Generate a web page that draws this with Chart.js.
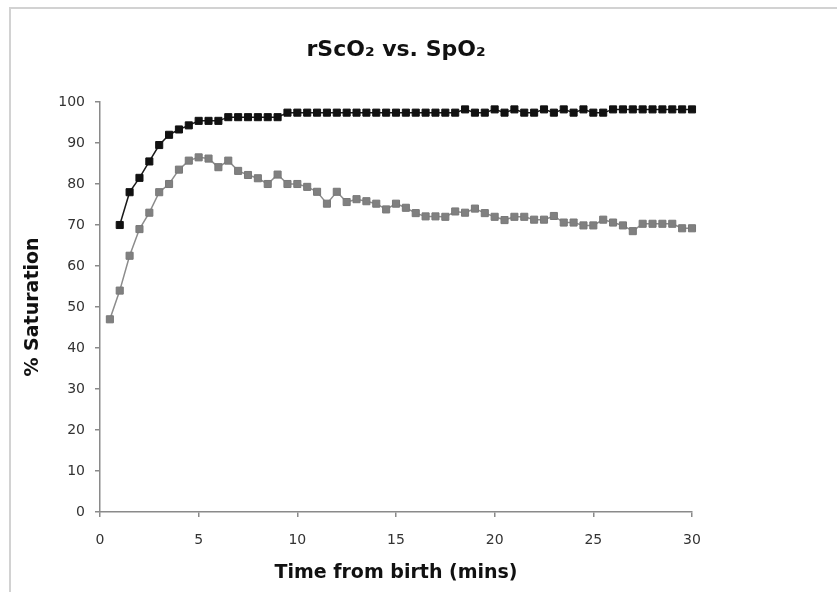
<!DOCTYPE html>
<html>
<head>
<meta charset="utf-8">
<script src="https://cdn.jsdelivr.net/npm/chart.js@4"></script>
<style>
  html, body { margin: 0; padding: 0; background: #fff; }
  #wrap { position: relative; width: 837px; height: 592px; }
  #frame {
    position: absolute; left: 9px; top: 7px; right: 0; bottom: 0;
    border-left: 2px solid #d2d2d2; border-top: 2px solid #d2d2d2;
  }
  canvas { position: absolute; left: 0; top: 0; }
</style>
</head>
<body>
<div id="wrap">
  <div id="frame"></div>
  <canvas id="myChart" width="837" height="592"></canvas>
</div>
<script>
const timeMins = [
  0.5, 1, 1.5, 2, 2.5, 3, 3.5, 4, 4.5, 5,
  5.5, 6, 6.5, 7, 7.5, 8, 8.5, 9, 9.5, 10,
  10.5, 11, 11.5, 12, 12.5, 13, 13.5, 14, 14.5, 15,
  15.5, 16, 16.5, 17, 17.5, 18, 18.5, 19, 19.5, 20,
  20.5, 21, 21.5, 22, 22.5, 23, 23.5, 24, 24.5, 25,
  25.5, 26, 26.5, 27, 27.5, 28, 28.5, 29, 29.5, 30
];

// SpO2 (black), no reading at 0.5 min
const spo2 = [
  null, 70, 78, 81.5, 85.5, 89.5, 92, 93.3, 94.3, 95.4,
  95.4, 95.4, 96.3, 96.3, 96.3, 96.3, 96.3, 96.3, 97.4, 97.4,
  97.4, 97.4, 97.4, 97.4, 97.4, 97.4, 97.4, 97.4, 97.4, 97.4,
  97.4, 97.4, 97.4, 97.4, 97.4, 97.4, 98.2, 97.4, 97.4, 98.2,
  97.4, 98.2, 97.4, 97.4, 98.2, 97.4, 98.2, 97.4, 98.2, 97.4,
  97.4, 98.2, 98.2, 98.2, 98.2, 98.2, 98.2, 98.2, 98.2, 98.2
];

// rScO2 (grey)
const rsco2 = [
  47, 54, 62.5, 69, 73, 78, 80, 83.5, 85.7, 86.5,
  86.2, 84.1, 85.7, 83.2, 82.2, 81.4, 80, 82.3, 80, 80,
  79.3, 78.1, 75.2, 78.1, 75.6, 76.3, 75.8, 75.2, 73.8, 75.2,
  74.2, 72.9, 72.1, 72.1, 72, 73.3, 73, 74, 72.9, 72,
  71.2, 72, 72, 71.3, 71.3, 72.2, 70.6, 70.6, 69.9, 69.9,
  71.3, 70.6, 69.9, 68.5, 70.3, 70.3, 70.3, 70.3, 69.2, 69.2
];

const xTicks = [0, 5, 10, 15, 20, 25, 30];
const yTicks = [0, 10, 20, 30, 40, 50, 60, 70, 80, 90, 100];

const toPoints = vals => timeMins.map((t, i) => ({ x: t, y: vals[i] }));

const axisGrey = "#8a8a8a";
const tickFont = { family: "DejaVu Sans", size: 14 };
const titleFont = { family: "DejaVu Sans", size: 19, weight: "bold" };

const ctx = document.getElementById("myChart").getContext("2d");
const chart = new Chart(ctx, {
  type: "line",
  data: {
    datasets: [
      {
        label: "SpO2",
        data: toPoints(spo2),
        borderColor: "#1a1a1a",
        backgroundColor: "#111",
        pointBorderColor: "#111",
        borderWidth: 1.5,
        pointStyle: "rect",
        pointRadius: 5,
        pointBorderWidth: 1,
        spanGaps: false,
        clip: false,
      },
      {
        label: "rScO2",
        data: toPoints(rsco2),
        borderColor: "#8c8c8c",
        backgroundColor: "#808080",
        pointBorderColor: "#787878",
        borderWidth: 1.5,
        pointStyle: "rect",
        pointRadius: 5,
        pointBorderWidth: 1,
        clip: false,
      },
    ],
  },
  options: {
    responsive: false,
    animation: false,
    layout: { padding: { left: 0, right: 145, top: 0, bottom: 0 } },
    plugins: {
      legend: { display: false },
      tooltip: { enabled: false },
      title: {
        display: true,
        text: "rScO₂ vs. SpO₂",
        fullSize: false,
        color: "#111",
        font: { family: "DejaVu Sans", size: 22, weight: "bold" },
        padding: { top: 37, bottom: 38.6 },
      },
    },
    scales: {
      x: {
        type: "linear",
        min: 0,
        max: 30,
        afterBuildTicks: scale => {
          scale.ticks = xTicks.map(v => ({ value: v }));
        },
        afterFit: scale => {
          scale.height = 80;
        },
        border: { display: true, color: axisGrey, width: 1.5 },
        grid: { display: true, drawOnChartArea: false, drawTicks: true, tickLength: 5, color: axisGrey, lineWidth: 1.5 },
        ticks: { color: "#333", font: tickFont, padding: 15, maxRotation: 0 },
        title: {
          display: true,
          text: "Time from birth (mins)",
          color: "#111",
          font: titleFont,
          padding: { top: 0, bottom: 8 },
        },
      },
      y: {
        type: "linear",
        min: 0,
        max: 100,
        afterBuildTicks: scale => {
          scale.ticks = yTicks.map(v => ({ value: v }));
        },
        afterFit: scale => {
          scale.width = 100;
        },
        border: { display: true, color: axisGrey, width: 1.5 },
        grid: { display: true, drawOnChartArea: false, drawTicks: true, tickLength: 5, color: axisGrey, lineWidth: 1.5 },
        ticks: { color: "#333", font: tickFont, padding: 10 },
        title: {
          display: true,
          text: "% Saturation",
          color: "#111",
          font: titleFont,
          padding: { top: 22, bottom: 0 },
        },
      },
    },
  },
});
</script>
</body>
</html>
